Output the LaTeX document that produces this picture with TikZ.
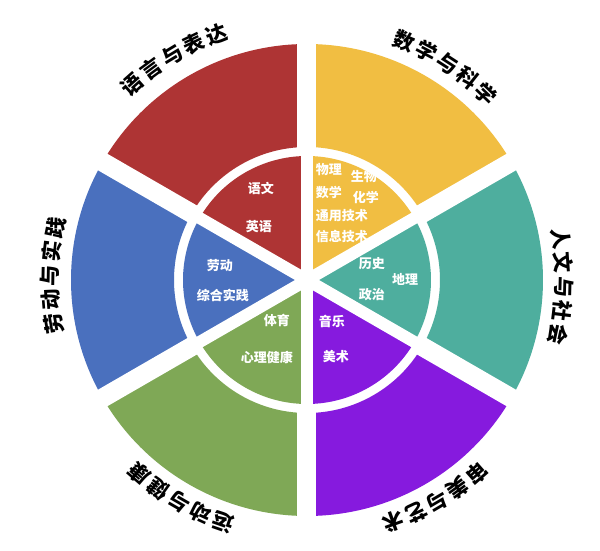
\documentclass[tikz,border=0pt]{standalone}
\usepackage{fontspec}
\newfontfamily\cjk{Noto Sans CJK SC}
\definecolor{cred}{HTML}{AE3434}
\definecolor{cyellow}{HTML}{F1BE42}
\definecolor{cteal}{HTML}{4EAE9E}
\definecolor{cpurple}{HTML}{861ADE}
\definecolor{cgreen}{HTML}{7FA856}
\definecolor{cblue}{HTML}{4A70BE}
\begin{document}
\begin{tikzpicture}[x=1pt,y=1pt,
  inlab/.style={text=white,font=\cjk\bfseries\fontsize{13}{13}\selectfont,inner sep=0pt},
  outlab/.style={text=black,font=\cjk\bfseries\fontsize{21}{21}\selectfont,inner sep=0pt},
  gapout/.style={white,line width=19pt},
  gapin/.style={white,line width=12pt}]
\fill[white] (-307,-271) rectangle (293,280);
\useasboundingbox (-307,-271) rectangle (293,280);
\newcommand\mysector[3]{%
  \fill[#1] (#2:133) arc[start angle=#2,end angle=#3,radius=133] -- (#3:236) arc[start angle=#3,end angle=#2,radius=236] -- cycle;
  \fill[#1] (0,0) -- (#2:124) arc[start angle=#2,end angle=#3,radius=124] -- cycle;}
\mysector{cyellow}{30}{90}
\mysector{cred}{90}{150}
\mysector{cblue}{150}{210}
\mysector{cgreen}{210}{270}
\mysector{cpurple}{270}{330}
\mysector{cteal}{-30}{30}
\coordinate (O) at (0,0);
\foreach \a in {30,90,150,210,270,330}{
  \coordinate (h\a) at (\a:128);
  \coordinate (g\a) at (\a:250);
  \draw[gapin] (O) -- (h\a);
  \draw[gapout] (h\a) -- (g\a);
}
% inner labels
\node[inlab] (yw) at (-46,92) {语文};
\node[inlab] (yy) at (-48,53) {英语};
\node[inlab] (wl) at (22,110) {物理};
\node[inlab] (sw) at (57,103) {生物};
\node[inlab] (sx) at (22,87) {数学};
\node[inlab] (hx) at (59,83) {化学};
\node[inlab] (ty) at (35,64) {通用技术};
\node[inlab] (xx) at (35,43) {信息技术};
\node[inlab] (ls) at (65,16) {历史};
\node[inlab] (dl) at (98,1) {地理};
\node[inlab] (zz) at (65,-15) {政治};
\node[inlab] (ld) at (-87,14) {劳动};
\node[inlab] (zh) at (-84,-15) {综合实践};
\node[inlab] (ty2) at (-30,-40) {体育};
\node[inlab] (xl) at (-40,-78) {心理健康};
\node[inlab] (yl) at (25,-41) {音乐};
\node[inlab] (ms) at (29,-77) {美术};
% outer labels along arcs
\newcommand\arclab[4]{%
  \foreach \ch [count=\i] in {#4}{
    \pgfmathsetmacro\ang{#2-(\i-3)*5.4}
    \node[outlab,rotate=\ang-90] (#1\i) at (\ang:#3) {\ch};
  }}
\arclab{ta}{121}{262}{语,言,与,表,达}
\arclab{tb}{57}{258}{数,学,与,科,学}
\arclab{tc}{-1.5}{257}{人,文,与,社,会}
\arclab{td}{300.5}{257}{审,美,与,艺,术}
\arclab{te}{240}{256}{运,动,与,健,康}
\arclab{tf}{179}{257}{劳,动,与,实,践}
\end{tikzpicture}
\end{document}
